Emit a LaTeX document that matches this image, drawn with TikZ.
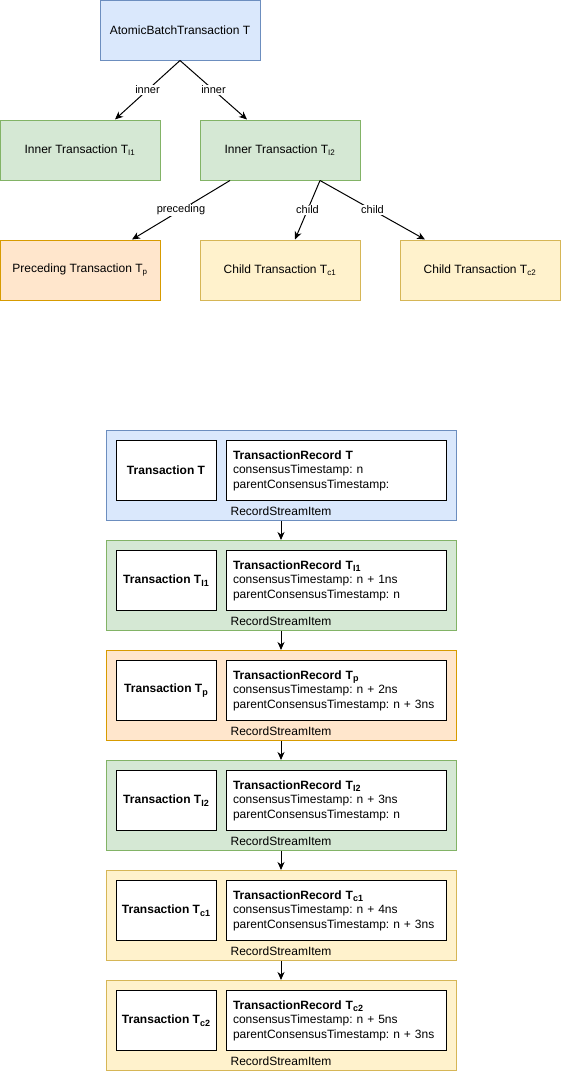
\documentclass[tikz,border=0pt]{standalone}
\usepackage{fontspec}
\setmainfont{Liberation Sans}
\usetikzlibrary{arrows.meta}
\frenchspacing

\definecolor{bluefill}{HTML}{DAE8FC}
\definecolor{bluedraw}{HTML}{6C8EBF}
\definecolor{greenfill}{HTML}{D5E8D4}
\definecolor{greendraw}{HTML}{82B366}
\definecolor{orangefill}{HTML}{FFE6CC}
\definecolor{orangedraw}{HTML}{D79B00}
\definecolor{yellowfill}{HTML}{FFF2CC}
\definecolor{yellowdraw}{HTML}{D6B656}

% subscript used inside the bold record labels
\newcommand{\recsub}[1]{\raisebox{-2.6pt}{\fontsize{9}{9}\selectfont #1}}

\begin{document}
\begin{tikzpicture}[x=1pt, y=-1pt,
  every node/.style={font=\fontsize{12}{14.5}\selectfont, text=black},
  txbox/.style={draw, line width=1pt, minimum width=160pt, minimum height=60pt, inner sep=0pt},
  blue box/.style={fill=bluefill, draw=bluedraw},
  green box/.style={fill=greenfill, draw=greendraw},
  orange box/.style={fill=orangefill, draw=orangedraw},
  yellow box/.style={fill=yellowfill, draw=yellowdraw},
  link/.style={line width=1pt, -{Stealth[length=8pt, width=7pt, inset=2.5pt]}},
  edgelabel/.style={fill=white, inner sep=1pt, font=\fontsize{11}{13}\selectfont},
  item/.style={draw, line width=1pt, minimum width=350pt, minimum height=90pt, inner sep=0pt},
  txinner/.style={draw=black, fill=white, line width=1pt, minimum width=100pt, minimum height=60pt, inner sep=0pt, font=\fontsize{12}{14.5}\selectfont\bfseries},
  recinner/.style={draw=black, fill=white, line width=1pt, minimum width=220pt, minimum height=60pt, inner xsep=7pt, inner ysep=0pt, text width=206pt, align=left},
]
\useasboundingbox (0,0) rectangle (561,1071);

% --- transaction tree ---
\node[txbox, blue box]   (abt) at (180,30)  {AtomicBatchTransaction T};
\node[txbox, green box]  (ti1) at (80,150)  {Inner Transaction T\textsubscript{I1}};
\node[txbox, green box]  (ti2) at (280,150) {Inner Transaction T\textsubscript{I2}};
\node[txbox, orange box] (tp)  at (80,270)  {Preceding Transaction T\textsubscript{p}};
\node[txbox, yellow box] (tc1) at (280,270) {Child Transaction T\textsubscript{c1}};
\node[txbox, yellow box] (tc2) at (480,270) {Child Transaction T\textsubscript{c2}};

\draw[link] (abt.south) -- node[edgelabel] (l1) {inner} ([xshift=35pt]ti1.north);
\draw[link] (abt.south) -- node[edgelabel] (l2) {inner} ([xshift=-33pt]ti2.north);
\draw[link] ([xshift=-50pt]ti2.south) -- node[edgelabel] (l3) {preceding} ([xshift=52pt]tp.north);
\draw[link] ([xshift=40pt]ti2.south) -- node[edgelabel] (l4) {child} ([xshift=15pt]tc1.north);
\draw[link] ([xshift=40pt]ti2.south) -- node[edgelabel] (l5) {child} ([xshift=-55pt]tc2.north);

% --- record stream ---
\foreach \k/\sty/\sub/\ts/\ps in {
  0/blue box/{}/{n}/{},
  1/green box/{\recsub{I1}}/{n + 1ns}/{n},
  2/orange box/{\recsub{p}}/{n + 2ns}/{n + 3ns},
  3/green box/{\recsub{I2}}/{n + 3ns}/{n},
  4/yellow box/{\recsub{c1}}/{n + 4ns}/{n + 3ns},
  5/yellow box/{\recsub{c2}}/{n + 5ns}/{n + 3ns}} {
  \node[item, \sty] (rsi\k) at (281,{475.5+110*\k}) {};
  \node[txinner] (tx\k) at (166,{470.5+110*\k}) {Transaction T\sub};
  \node[recinner] (rec\k) at (336,{470.5+110*\k})
    {\textbf{TransactionRecord T\sub}\\
     consensusTimestamp: \ts\\
     parentConsensusTimestamp: \ps};
  \node (lab\k) at (281,{511+110*\k}) {RecordStreamItem};
}

\foreach \a/\b in {0/1,1/2,2/3,3/4,4/5}
  \draw[link] (rsi\a.south) -- (rsi\b.north);
\end{tikzpicture}
\end{document}
